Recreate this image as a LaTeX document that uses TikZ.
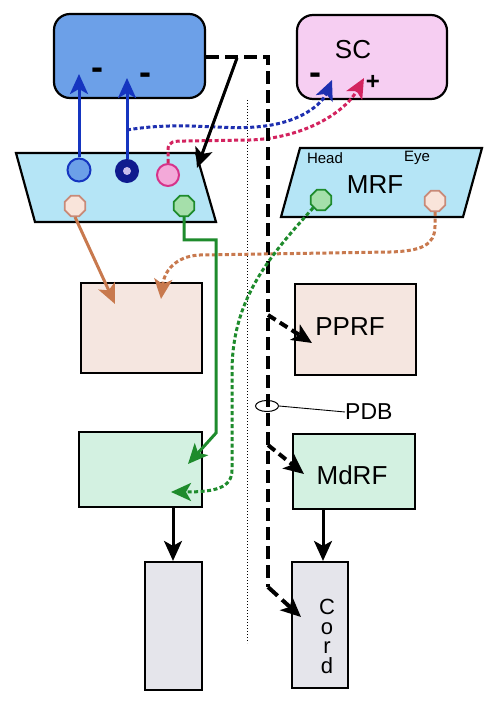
\documentclass[tikz,border=0pt]{standalone}
\usepackage{fontspec}
\setmainfont{Liberation Sans}
\usetikzlibrary{arrows.meta,shapes.geometric}
\definecolor{bluebox}{HTML}{6CA0E8}
\definecolor{scpink}{HTML}{F6CEF2}
\definecolor{mrfcyan}{HTML}{B5E5F6}
\definecolor{peachbox}{HTML}{F5E6E0}
\definecolor{mint}{HTML}{D3F1E1}
\definecolor{greybox}{HTML}{E5E5EB}
\definecolor{arrblue}{HTML}{1535C0}
\definecolor{dotblue}{HTML}{1E2FB0}
\definecolor{magline}{HTML}{D3235F}
\definecolor{orangeline}{HTML}{C8794E}
\definecolor{greenline}{HTML}{1E8B2C}
\definecolor{navy}{HTML}{0F1A8E}
\definecolor{lavender}{HTML}{C9BCEB}
\definecolor{pinkfill}{HTML}{F3A9D9}
\definecolor{pinkdraw}{HTML}{D6338A}
\definecolor{peachoct}{HTML}{F9E4DA}
\definecolor{peachoctd}{HTML}{C88A78}
\definecolor{greenoct}{HTML}{A5DFAA}
\tikzset{
  boxstyle/.style={draw=black, line width=2.2pt, rectangle, inner sep=0pt},
  rbox/.style={boxstyle, rounded corners=16pt},
  mrfshape/.style={draw=black, line width=2.2pt, fill=mrfcyan},
  lbl/.style={inner sep=0pt, font=\fontsize{26}{30}\selectfont},
  smalllbl/.style={inner sep=0pt, font=\fontsize{15}{18}\selectfont},
  sign/.style={inner sep=0pt, font=\bfseries\fontsize{36}{40}\selectfont},
  bighead/.style={arrows={-Stealth[length=20pt,width=18pt,inset=5pt]}},
  solidarr/.style={bighead, line width=3pt},
  dotarr/.style={bighead, line width=3pt, dash pattern=on 4pt off 2.5pt},
  bigdash/.style={line width=4pt, dash pattern=on 13pt off 6pt},
  oct/.style={regular polygon, regular polygon sides=8, minimum size=22pt, inner sep=0pt, line width=1.7pt},
  dot/.style={circle, inner sep=0pt, line width=2pt},
}
\begin{document}
\begin{tikzpicture}[x=1pt,y=-1pt]
\useasboundingbox (0,0) rectangle (500,708);
\fill[white] (0,0) rectangle (500,708);

% thin dotted divider
\coordinate (divtop) at (247,100);
\coordinate (divbot) at (247,643);
\draw[line width=1pt, dotted] (divtop) -- (divbot);

% boxes
\node[rbox, fill=bluebox, minimum width=151pt, minimum height=84pt] (blue) at (129.5,56) {};
\node[rbox, fill=scpink, minimum width=150pt, minimum height=84pt] (sc) at (372,57) {};
\node[boxstyle, fill=peachbox, minimum width=121pt, minimum height=90pt] (peachL) at (141.5,328) {};
\node[boxstyle, fill=peachbox, minimum width=121pt, minimum height=91pt] (pprf) at (355.5,329.5) {};
\node[boxstyle, fill=mint, minimum width=123pt, minimum height=75pt] (greenL) at (140.5,469.5) {};
\node[boxstyle, fill=mint, minimum width=122pt, minimum height=75pt] (mdrf) at (354,471.5) {};
\node[boxstyle, fill=greybox, minimum width=57pt, minimum height=128pt] (greyL) at (173.5,626) {};
\node[boxstyle, fill=greybox, minimum width=56pt, minimum height=126pt] (cord) at (320,625) {};

% MRF parallelograms
\draw[mrfshape] (16,153) -- (196,153) -- (216,222) -- (35,222) -- cycle;
\draw[mrfshape] (300,148) -- (482,148) -- (463,217) -- (281,217) -- cycle;

% labels
\node[lbl] (sclbl) at (353,50) {SC};
\node[sign] (scminus) at (315,79) {-};
\node[sign, font=\bfseries\fontsize{24}{28}\selectfont] (scplus) at (373,82) {+};
\node[sign] (bminus1) at (97,74) {-};
\node[sign] (bminus2) at (145,79) {-};
\node[smalllbl] (head) at (325,158) {Head};
\node[smalllbl] (eye) at (417,158) {Eye};
\node[lbl] (mrflbl) at (375,185) {MRF};
\node[lbl] (pprflbl) at (350,327) {PPRF};
\node[lbl] (mdrflbl) at (352,475) {MdRF};
\node[inner sep=0pt, anchor=west, font=\fontsize{23}{27}\selectfont] (pdb) at (345,412) {PDB};
\node[inner sep=0pt, align=center, anchor=north, font=\fontsize{22}{19.5}\selectfont] (cordlbl) at (327,599) {C\\o\\r\\d};

% circles and octagons in MRF
\node[dot, fill=bluebox, draw=arrblue, minimum size=23pt] (c1) at (79,170) {};
\node[dot, fill=navy, draw=navy, minimum size=22pt] (c2) at (127,171) {};
\node[dot, fill=lavender, minimum size=8pt, line width=0pt] (c2in) at (127,171) {};
\node[dot, fill=pinkfill, draw=pinkdraw, minimum size=22pt] (c3) at (168,175) {};
\node[oct, fill=peachoct, draw=peachoctd] (o1) at (75,206) {};
\node[oct, fill=greenoct, draw=greenline] (o2) at (184,206) {};
\node[oct, fill=greenoct, draw=greenline] (o3) at (321,200) {};
\node[oct, fill=peachoct, draw=peachoctd] (o4) at (435,201) {};

% blue solid arrows
\coordinate (t1) at (79,74);
\coordinate (t2) at (127,78);
\draw[solidarr, arrblue] (c1.north) -- (t1);
\draw[solidarr, arrblue] (c2.north) -- (t2);

% dotted blue and magenta to SC
\coordinate (bstart) at (127,130);
\coordinate (bend) at (332,80);
\draw[dotarr, dotblue] (bstart) .. controls (180,121) and (220,130) .. (255,127) .. controls (300,124) and (322,104) .. (bend);
\coordinate (mend) at (364,78);
\draw[dotarr, magline] (c3.north) -- (168,150) .. controls (168,141) and (174,141) .. (186,141) -- (250,140) .. controls (305,138) and (345,112) .. (mend);

% big dashed path
\coordinate (bd1) at (268,57);
\coordinate (bd2) at (268,587);
\coordinate (cordtip) at (301,617);
\draw[bigdash] (blue.east |- 0,57) -- (bd1) -- (bd2);
\draw[bighead, line width=4pt, dash pattern=on 13pt off 6pt] (bd2) -- (cordtip);
\coordinate (br1) at (268,315);
\coordinate (br1tip) at (312,343);
\draw[bighead, line width=4pt, dash pattern=on 9pt off 5pt] (br1) -- (br1tip);
\coordinate (br2) at (268,445);
\coordinate (br2tip) at (304,474);
\draw[bighead, line width=4pt, dash pattern=on 9pt off 5pt] (br2) -- (br2tip);

% black solid arrow to MRF
\coordinate (bk1) at (237,58);
\coordinate (bk1tip) at (197,168);
\draw[solidarr] (bk1) -- (bk1tip);

% orange
\coordinate (orTip1) at (115,304);
\draw[solidarr, orangeline] (o1.south) -- (orTip1);
\coordinate (orTip2) at (161,299);
\draw[dotarr, orangeline] (o4.south) -- (435,226) .. controls (435,246) and (420,251) .. (390,252) -- (200,255) .. controls (175,256) and (164,272) .. (orTip2);

% green solid
\coordinate (gTip) at (188,464);
\draw[solidarr, greenline] (o2.south) -- (184,240) -- (216,240) -- (216,433) -- (gTip);
% green dotted
\coordinate (gdTip) at (171,492);
\draw[dotarr, greenline] (o3.south west) .. controls (268,258) and (232,300) .. (232,372) -- (232,470) .. controls (232,488) and (215,492) .. (gdTip);

% PDB marker
\node[ellipse, draw, line width=1pt, minimum width=23pt, minimum height=11pt, inner sep=0pt] (pdbell) at (267,406) {};
\draw[line width=0.9pt] (pdbell.east) -- (pdb.west);

% black arrows down
\draw[solidarr] (greenL.south -| 173,0) -- (greyL.north -| 173,0);
\draw[solidarr] (mdrf.south -| 323,0) -- (cord.north -| 323,0);
\end{tikzpicture}
\end{document}
